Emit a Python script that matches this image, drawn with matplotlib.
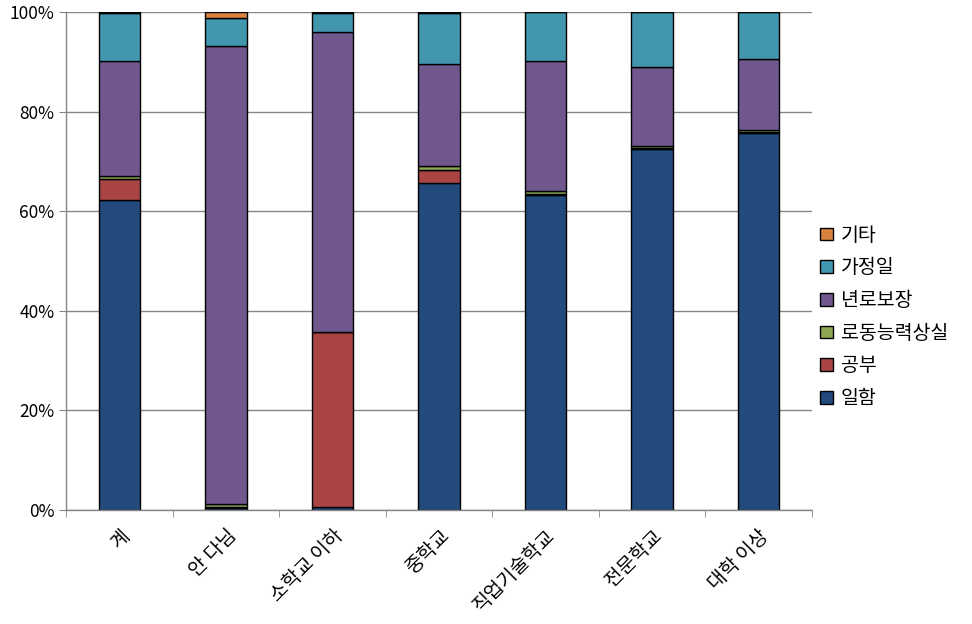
import matplotlib
matplotlib.use("Agg")
import matplotlib.pyplot as plt
import numpy as np
from matplotlib.ticker import FixedLocator, PercentFormatter

plt.rcParams['font.family'] = ['Noto Sans CJK KR', 'DejaVu Sans']

categories = ['계', '안 다님', '소학교 이하', '중학교', '직업기술학교', '전문학교', '대학 이상']
series_names = ['일함', '공부', '로동능력상실', '년로보장', '가정일', '기타']
work     = [62.2, 0.5, 0.6, 65.7, 63.3, 72.5, 75.7]
study    = [4.3, 0.1, 35.1, 2.6, 0.2, 0.2, 0.3]
disabled = [0.6, 0.6, 0.1, 0.8, 0.5, 0.4, 0.4]
pension  = [23.1, 92.0, 60.2, 20.5, 26.2, 15.9, 14.2]
house    = [9.6, 5.6, 3.8, 10.2, 9.8, 11.0, 9.4]
other    = [0.2, 1.2, 0.2, 0.2, 0.0, 0.0, 0.0]
series = [work, study, disabled, pension, house, other]
colors = ['#234A7D', '#A94442', '#8CA652', '#70578E', '#4297AF', '#D9823F']

fig = plt.figure(figsize=(9.72, 6.24), dpi=100)
ax = fig.add_axes([0.068, 0.1827, 0.767, 0.7981])

x = np.arange(len(categories))
bottom = np.zeros(len(categories))
handles = []
for name, vals, c in zip(series_names, series, colors):
    v = np.array(vals)
    h = ax.bar(x, v, 0.39, bottom=bottom, color=c, edgecolor='black', linewidth=1.0, label=name)
    handles.append(h)
    bottom += v

ax.set_xlim(-0.5, len(categories) - 0.5)
ax.set_ylim(0, 100)
ax.yaxis.set_major_locator(FixedLocator([0, 20, 40, 60, 80, 100]))
ax.yaxis.set_major_formatter(PercentFormatter(decimals=0))
ax.grid(axis='y', color='#868686', linewidth=1.0)
ax.set_axisbelow(True)
for s in ['top', 'right']:
    ax.spines[s].set_visible(False)
for s in ['left', 'bottom']:
    ax.spines[s].set_color('#868686')
    ax.spines[s].set_linewidth(1.0)

ax.set_xticks(x)
ax.set_xticklabels(categories, rotation=45, ha='right', va='top', rotation_mode='anchor', fontsize=14)
ax.tick_params(axis='x', which='major', length=0, pad=11)
ax.set_xticks(np.arange(-0.5, len(categories), 1.0), minor=True)
ax.tick_params(axis='x', which='minor', length=5, color='#868686')
ax.tick_params(axis='y', length=5, color='#868686', labelsize=12.5)

leg = fig.legend(handles[::-1], series_names[::-1], loc='center left', bbox_to_anchor=(0.826, 0.492),
                 frameon=False, fontsize=14, handlelength=0.65, handleheight=0.65,
                 handletextpad=0.4, labelspacing=0.6)

fig.savefig('out.png', dpi=100)
